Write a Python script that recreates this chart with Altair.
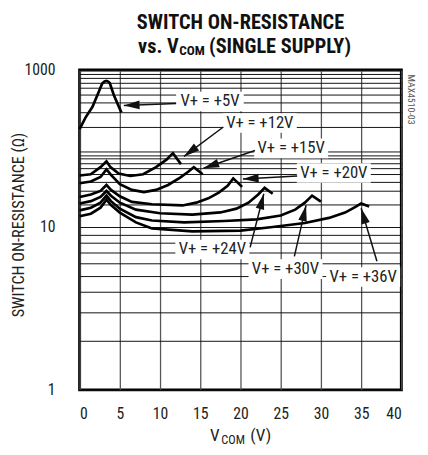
import math
import altair as alt
import pandas as pd

FONT = "'Liberation Sans Narrow', 'Arial Narrow', 'Roboto Condensed', 'DejaVu Sans Condensed', sans-serif"

# ---------------- data ----------------
v_5 = [0, 0.73, 1.6, 2.45, 2.8, 3.1, 3.34, 3.55, 3.75, 4.25, 4.77, 5.2]
r_5 = [188, 261, 354, 562, 681, 725, 735, 722, 694, 494, 376, 300]

v_12 = [0, 1.38, 2.6, 3.34, 3.83, 4.85, 6.3, 7.9, 9.5, 10.8, 11.6, 12.6]
r_12 = [48, 50, 62, 74, 62, 51, 47.4, 50, 62, 78, 95, 68]

v_15 = [0, 1.4, 2.6, 3.34, 3.9, 5.0, 6.5, 8.0, 9.5, 11.0, 12.5, 13.5, 14.2, 15.3]
r_15 = [38, 40, 46, 58, 49, 37, 31, 29, 31, 36, 45, 54, 62, 50]

v_20 = [0, 1.4, 2.6, 3.34, 3.9, 5.0, 6.5, 9.0, 12.8, 14.5, 16.0, 17.3, 18.4, 19.1, 20.2]
r_20 = [25, 27, 30, 36, 31, 25.5, 21.5, 20, 19.3, 21, 24, 28.5, 35, 44, 34]

v_24 = [0, 1.4, 2.6, 3.34, 3.9, 5.0, 7.0, 10, 14, 17.5, 19.5, 21.0, 22.2, 23.0, 24.0]
r_24 = [20.5, 22, 25, 30, 26, 21, 17, 15.2, 14.6, 15.6, 17.5, 21, 27, 33, 27.6]

v_30 = [0, 1.4, 2.6, 3.34, 3.9, 5.0, 7.0, 9.0, 13, 18, 22, 25, 26.8, 28.0, 28.9, 30.0]
r_30 = [16.6, 18, 21, 26, 22, 17.5, 13.5, 12.2, 11.5, 12.0, 12.6, 14.2, 17, 21, 26, 21.7]

v_36 = [0, 1.4, 2.6, 3.34, 3.9, 5.0, 7.0, 9.0, 14, 20, 24, 28, 31, 33, 34.3, 35.0, 36.0]
r_36 = [13.9, 15, 18, 23, 19.5, 15.5, 11.5, 9.8, 9.4, 9.5, 10, 11.3, 13.2, 15.5, 18.5, 20.5, 18.7]

series = [("5V", v_5, r_5), ("12V", v_12, r_12), ("15V", v_15, r_15),
          ("20V", v_20, r_20), ("24V", v_24, r_24), ("30V", v_30, r_30),
          ("36V", v_36, r_36)]

x_ticks = [0, 5, 10, 15, 20, 25, 30, 35, 40]
y_grid = [1, 2, 3, 4, 5, 6, 7, 8, 9, 10, 20, 30, 40, 50, 60, 70, 80, 90,
          100, 200, 300, 400, 500, 600, 700, 800, 900, 1000]
y_labels = [1, 10, 1000]

# annotations (in data units: V, ohms)
lab_text = ["V+ = +5V", "V+ = +12V", "V+ = +15V", "V+ = +20V",
            "V+ = +24V", "V+ = +30V", "V+ = +36V"]
lab_v = [16.2, 22.4, 26.3, 31.6, 16.5, 25.6, 35.25]
lab_r = [411, 224, 109, 51.8, 7.27, 5.51, 4.93]
lab_halfw = [4.2, 4.6, 4.6, 4.6, 4.6, 4.6, 4.6]
arr_v0 = [12.0, 17.87, 21.8, 27.05, 21.2, 26.7, 36.96]
arr_r0 = [389, 200, 103, 47.4, 7.5, 6.6, 6.16]
arr_v1 = [5.5, 12.97, 15.4, 20.3, 22.9, 28.15, 35.0]
arr_r1 = [368, 86, 60, 43.3, 27.6, 19.3, 17.7]

# ---------------- layout ----------------
W, H = 328, 326
Y_DOM = [1, 10, 100, 1000]
Y_RNG = [H, H - 166, H - 166 - 77, 0]


def x2px(v):
    return v / 40.0 * W


def r2py(r):
    l = math.log10(r)
    i = min(max(int(math.floor(l)), 0), 2)
    t = l - i
    return Y_RNG[i] + t * (Y_RNG[i + 1] - Y_RNG[i])


rows = []
for name, xs, ys in series:
    for i, (a, b) in enumerate(zip(xs, ys)):
        rows.append({"s": name, "v": a, "r": b, "o": i})
df = pd.DataFrame(rows)

lab = pd.DataFrame({"t": lab_text, "v": lab_v, "r": lab_r,
                    "xl": [a - w for a, w in zip(lab_v, lab_halfw)],
                    "xr": [a + w for a, w in zip(lab_v, lab_halfw)]})

angles = []
for a0, b0, a1, b1 in zip(arr_v0, arr_r0, arr_v1, arr_r1):
    dx = x2px(a1) - x2px(a0)
    dy = r2py(b1) - r2py(b0)
    angles.append(math.degrees(math.atan2(dx, -dy)) % 360)
arr = pd.DataFrame({"v0": arr_v0, "r0": arr_r0, "v1": arr_v1, "r1": arr_r1,
                    "ang": angles})

xscale = alt.Scale(domain=[0, 40], nice=False, zero=False)
yscale = alt.Scale(type="log", domain=Y_DOM, range=Y_RNG, nice=False)

xaxis = alt.Axis(values=x_ticks, grid=True, gridColor="#555", gridWidth=1.3,
                 ticks=False, domain=False, labelFont=FONT, labelFontSize=16,
                 labelColor="#222", labelPadding=16, title=None, labelOverlap=False)
yaxis = alt.Axis(values=y_grid, grid=True, gridColor="#111", gridWidth=1,
                 ticks=False, domain=False, labelFont=FONT, labelFontSize=16,
                 labelColor="#222", labelPadding=25, title=None, labelOverlap=False,
                 labelExpr="indexof(%s, datum.value) >= 0 ? format(datum.value, 'd') : ''" % str(y_labels))

boxes = alt.Chart(lab).mark_rect(color="white", yOffset=-10, y2Offset=10).encode(
    x=alt.X("xl:Q", scale=xscale, axis=xaxis), x2="xr:Q",
    y=alt.Y("r:Q", scale=yscale, axis=yaxis), y2="r:Q")

curves = alt.Chart(df).mark_line(color="black", strokeWidth=2.7, strokeJoin="miter").encode(
    x=alt.X("v:Q", scale=xscale), y=alt.Y("r:Q", scale=yscale),
    detail="s:N", order="o:Q")

rules = alt.Chart(arr).mark_rule(color="#111", strokeWidth=1.5).encode(
    x=alt.X("v0:Q", scale=xscale), y=alt.Y("r0:Q", scale=yscale),
    x2="v1:Q", y2="r1:Q")

heads = alt.Chart(arr).mark_point(shape="M0,0L-0.55,2L0.55,2Z", filled=True,
                                  color="#111", opacity=1, size=256).encode(
    x=alt.X("v1:Q", scale=xscale), y=alt.Y("r1:Q", scale=yscale),
    angle=alt.Angle("ang:Q", scale=None))

labels = alt.Chart(lab).mark_text(font=FONT, fontSize=17, color="#222",
                                  align="center", baseline="middle").encode(
    x=alt.X("v:Q", scale=xscale), y=alt.Y("r:Q", scale=yscale), text="t:N")

one = pd.DataFrame({"a": [0]})


def txt(s, x, y, size, weight="normal", align="left", baseline="alphabetic",
        angle=0, color="#111"):
    kw = dict(text=s, font=FONT, fontSize=size, fontWeight=weight, align=align,
              baseline=baseline, color=color)
    if angle:
        kw["angle"] = angle
    return alt.Chart(one).mark_text(**kw).encode(x=alt.value(x), y=alt.value(y))


texts = [
    txt("SWITCH ON-RESISTANCE", 164, -42, 20.7, "bold", "center"),
    txt("vs. V", 101, -17, 20.7, "bold", "right"),
    txt("COM", 101.5, -15, 13.5, "bold", "left"),
    txt("(SINGLE SUPPLY)", 132, -17, 20.7, "bold", "left"),
    txt("V", 133, 378, 17.5, align="left", color="#222"),
    txt("COM", 144.5, 381, 12.5, align="left", color="#222"),
    txt("(V)", 174, 378, 17.5, align="left", color="#222"),
    txt("SWITCH ON-RESISTANCE (\u03a9)", -62, 158, 16.5, align="center",
        baseline="middle", angle=270, color="#222"),
    txt("MAX4510-03", 338, 30, 10, align="center", baseline="middle",
        angle=90, color="#555"),
]

chart = alt.layer(boxes, curves, rules, heads, labels, *texts).properties(
    width=W, height=H,
    padding={"left": 73, "top": 59, "right": 19, "bottom": 54},
    autosize=alt.AutoSizeParams(type="none"),
).configure_view(stroke="black", strokeWidth=3)

chart.save("out.html", embed_options={"renderer": "svg", "actions": False})
